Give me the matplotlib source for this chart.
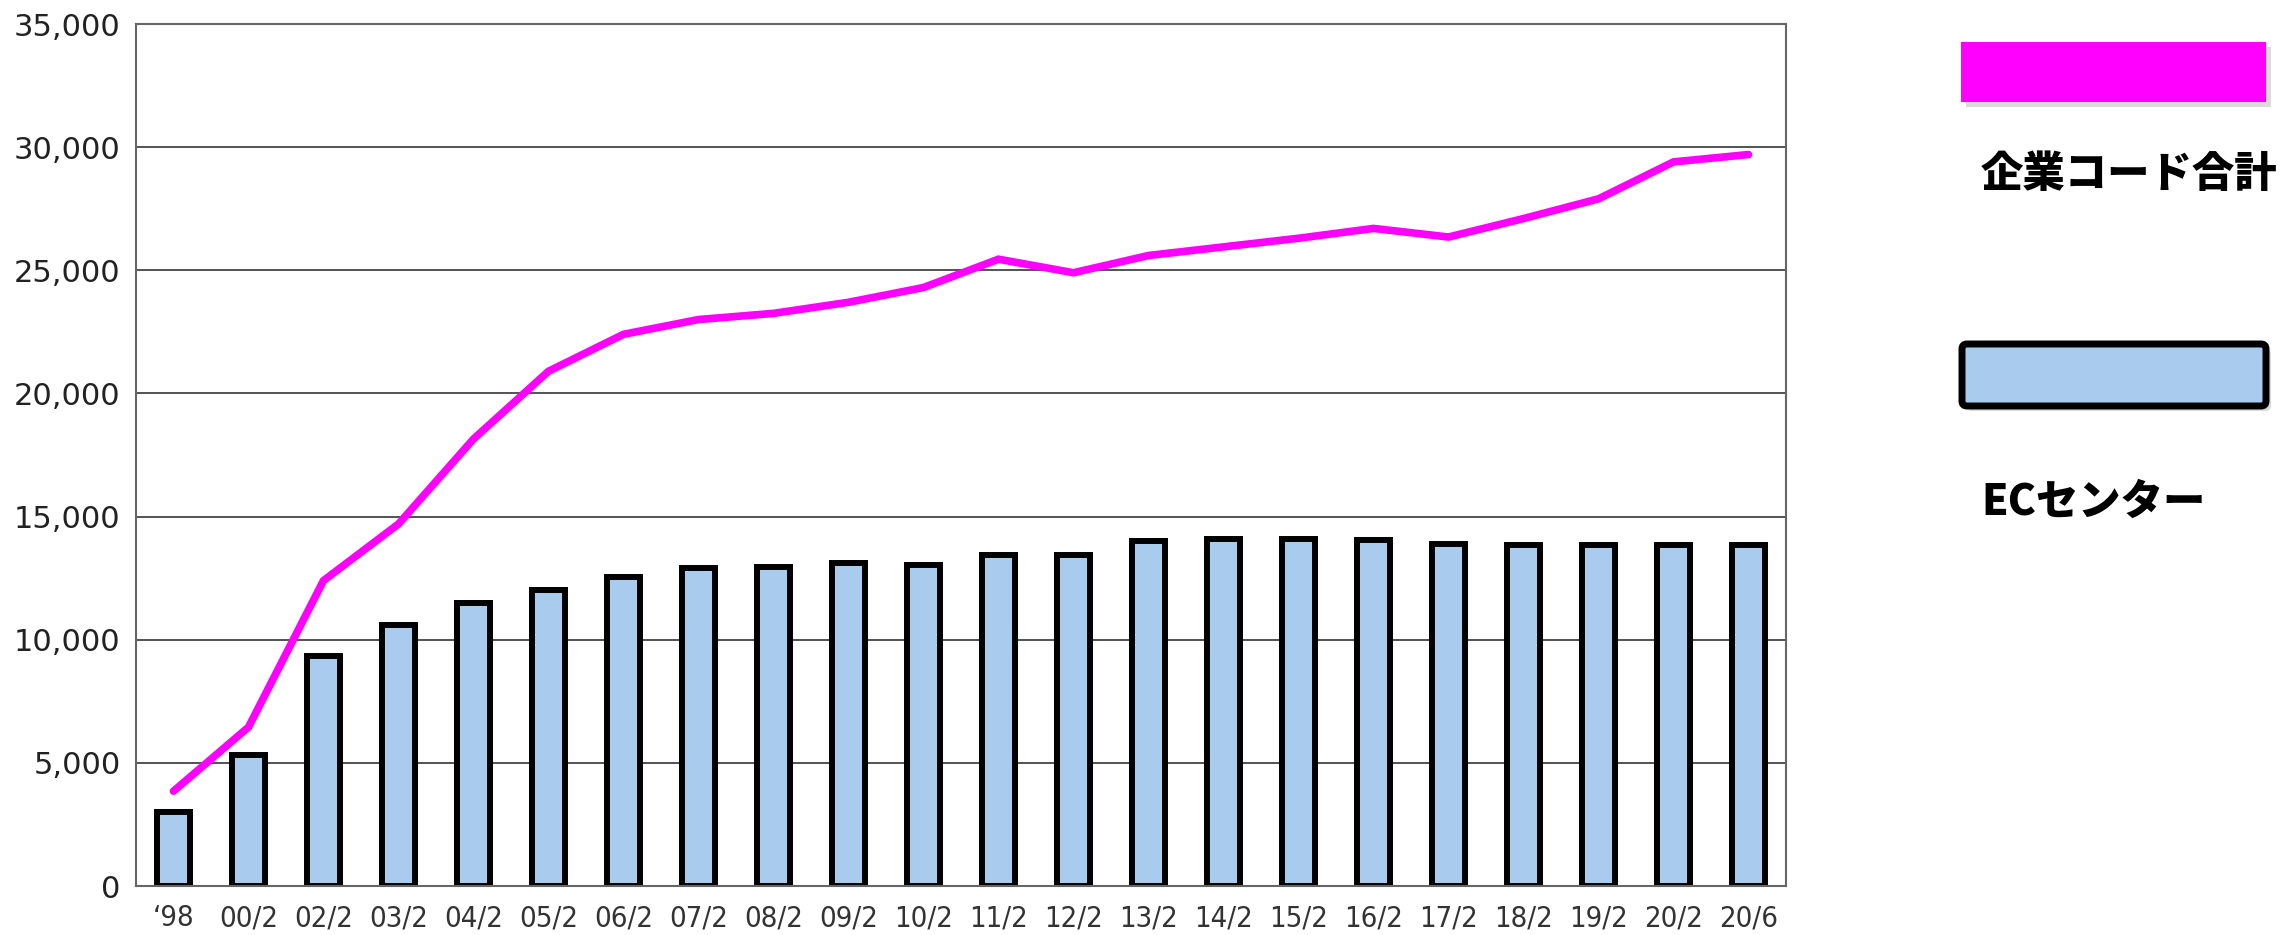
import matplotlib
matplotlib.use("Agg")
import matplotlib.pyplot as plt
from matplotlib.patches import FancyBboxPatch, Rectangle
from matplotlib.transforms import IdentityTransform, ScaledTranslation
from matplotlib.ticker import FuncFormatter

categories = ["‘98", "00/2", "02/2", "03/2", "04/2", "05/2", "06/2", "07/2", "08/2", "09/2",
              "10/2", "11/2", "12/2", "13/2", "14/2", "15/2", "16/2", "17/2", "18/2", "19/2",
              "20/2", "20/6"]
ec_center = [3000, 5300, 9350, 10600, 11500, 12000, 12550, 12900, 12950, 13100,
             13030, 13440, 13440, 14000, 14100, 14100, 14040, 13900, 13840, 13840,
             13840, 13840]
company_total = [3850, 6450, 12400, 14700, 18150, 20900, 22400, 23000, 23250, 23700,
                 24300, 25450, 24900, 25600, 25950, 26300, 26700, 26350, 27100, 27900,
                 29400, 29700]
legend_labels = ["企業コード合計", "ECセンター"]

W, H = 2295, 935
fig = plt.figure(figsize=(W / 100, H / 100), dpi=100)
ax = fig.add_axes([136 / W, 1 - 886 / H, (1786 - 136) / W, (886 - 24) / H])

x = list(range(len(categories)))
ax.bar(x, ec_center, width=0.45, color="#A9CBEE", edgecolor="black", linewidth=4.3, zorder=2)
ax.plot(x, company_total, color="#FF00FF", linewidth=5.5, solid_capstyle="round",
        solid_joinstyle="miter", zorder=3)

ax.set_xlim(-0.5, len(categories) - 0.5)
ax.set_ylim(0, 35000)
ax.set_yticks(range(0, 35001, 5000))
ax.yaxis.set_major_formatter(FuncFormatter(lambda v, p: f"{int(v):,}"))
ax.set_xticks(x)
ax.set_xticklabels(categories, fontsize=21, color="#333333",
                   family=["DejaVu Sans Condensed", "DejaVu Sans"], fontstretch="condensed")
xl = ax.get_xticklabels()
xl[0].set_transform(xl[0].get_transform() + ScaledTranslation(0, -5 / 100, fig.dpi_scale_trans))
for lab in ax.get_yticklabels():
    lab.set_fontsize(22)
    lab.set_color("#222222")
    lab.set_family("DejaVu Sans")
ax.tick_params(axis="both", length=0)
ax.tick_params(axis="y", pad=11)
ax.tick_params(axis="x", pad=13)
ax.grid(axis="y", color="#444444", linewidth=1.3, zorder=0)
ax.set_axisbelow(True)
for s in ax.spines.values():
    s.set_color("#666666")
    s.set_linewidth(1.5)

def py(ytop):
    return H - ytop

tr = IdentityTransform()
fig.patches.append(Rectangle((1961 + 5, py(102) - 5), 305, 60, transform=tr,
                             facecolor="#999999", alpha=0.35, edgecolor="none", zorder=1))
fig.patches.append(Rectangle((1961, py(102)), 305, 60, transform=tr,
                             facecolor="#FF00FF", edgecolor="none", zorder=2))
fig.patches.append(FancyBboxPatch((1962 + 5, py(406) - 5), 304, 62, transform=tr,
                                  boxstyle="round,pad=0,rounding_size=5",
                                  facecolor="#999999", alpha=0.35, edgecolor="none", zorder=1))
fig.patches.append(FancyBboxPatch((1962, py(406)), 304, 62, transform=tr,
                                  boxstyle="round,pad=0,rounding_size=5",
                                  facecolor="#A9CBEE", edgecolor="black", linewidth=5, zorder=2))

jp = ["Noto Sans CJK JP", "DejaVu Sans"]
fig.text(1981 / W, 1 - 174 / H, legend_labels[0], fontsize=30.5, fontweight="heavy",
         family=jp, va="center", ha="left")
fig.text(1981 / W, 1 - 502 / H, legend_labels[1], fontsize=30.5, fontweight="heavy",
         family=jp, va="center", ha="left")

fig.savefig("out.png", dpi=100)
